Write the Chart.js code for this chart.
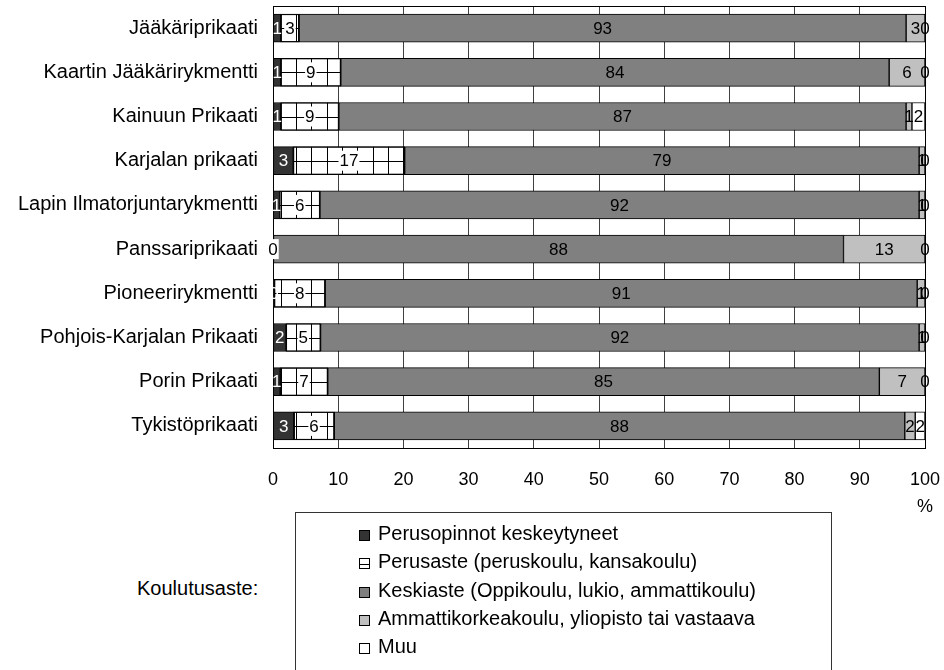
<!DOCTYPE html>
<html>
<head>
<meta charset="utf-8">
<script src="https://cdn.jsdelivr.net/npm/chart.js@4"></script>
<style>
    body { margin: 0; background: #fff; font-family: "Liberation Sans", Arial, sans-serif; }
    #wrap { position: relative; width: 944px; height: 670px; overflow: hidden; }
    #chart { position: absolute; left: 0; top: 0; }
    #legend { position: absolute; left: 295px; top: 512px; width: 537px; height: 200px;
              border: 1px solid #333; box-sizing: border-box; padding-top: 6px; }
    .item { height: 28.3px; line-height: 28.3px; font-size: 20px; color: #000; padding-left: 63px; white-space: nowrap; }
    .mark { display: inline-block; width: 11px; height: 11px; border: 1px solid #000; box-sizing: border-box;
            margin-right: 8px; vertical-align: -1px; }
    #title { position: absolute; left: 137px; top: 577px; font-size: 20px; color: #000; }
</style>
</head>
<body>
<div id="wrap">
    <canvas id="chart" width="944" height="520"></canvas>
    <div id="title">Koulutusaste:</div>
    <div id="legend"></div>
</div>
<script>
const categories = [
    "Jääkäriprikaati",
    "Kaartin Jääkärirykmentti",
    "Kainuun Prikaati",
    "Karjalan prikaati",
    "Lapin Ilmatorjuntarykmentti",
    "Panssariprikaati",
    "Pioneerirykmentti",
    "Pohjois-Karjalan Prikaati",
    "Porin Prikaati",
    "Tykistöprikaati"
];
const seriesNames = [
    "Perusopinnot keskeytyneet",
    "Perusaste (peruskoulu, kansakoulu)",
    "Keskiaste (Oppikoulu, lukio, ammattikoulu)",
    "Ammattikorkeakoulu, yliopisto tai vastaava",
    "Muu"
];
const perusopinnot = [1.2, 1.2, 1.2, 3.1, 1.0, 0, 0.2, 2.0, 1.1, 3.2];
const perusaste    = [2.8, 9.2, 8.9, 17.1, 6.2, 0, 7.8, 5.3, 7.3, 6.2];
const keskiaste    = [93.1, 84.1, 87.0, 78.9, 91.9, 87.5, 90.8, 91.8, 84.6, 87.5];
const korkeakoulu  = [2.9, 5.5, 0.9, 0.9, 0.9, 12.5, 1.2, 0.9, 7.0, 1.6];
const muu          = [0, 0, 2.0, 0, 0, 0, 0, 0, 0, 1.5];
const xTicks = [0, 10, 20, 30, 40, 50, 60, 70, 80, 90, 100];

const FONT = "'Liberation Sans', Arial, sans-serif";
const fills = ["#333333", "#ffffff", "#808080", "#c0c0c0", "#ffffff"];
const textColors = ["#ffffff", "#000000", "#000000", "#000000", "#000000"];

// frame round the plot area
const framePlugin = {
    id: "frame",
    beforeDatasetsDraw(chart) {
        const a = chart.chartArea, ctx = chart.ctx;
        ctx.save();
        ctx.strokeStyle = "#000";
        ctx.lineWidth = 1;
        ctx.strokeRect(Math.round(a.left) + 0.5, Math.round(a.top) + 0.5,
                       Math.round(a.right - a.left), Math.round(a.bottom - a.top));
        ctx.restore();
    }
};

// grid pattern of the "Perusaste" bars
const hatchPlugin = {
    id: "hatch",
    afterDatasetsDraw(chart) {
        const ctx = chart.ctx;
        const x0 = chart.scales.x.left;
        ctx.save();
        ctx.strokeStyle = "#000";
        ctx.lineWidth = 1;
        chart.getDatasetMeta(1).data.forEach(bar => {
            const p = bar.getProps(["x", "base", "y", "height"], true);
            const left = Math.min(p.x, p.base), right = Math.max(p.x, p.base);
            if (right - left < 1) return;
            const top = p.y - p.height / 2;
            ctx.save();
            ctx.beginPath();
            ctx.rect(left, top, right - left, p.height);
            ctx.clip();
            ctx.beginPath();
            for (let gx = x0 + 7.7; gx < right; gx += 15.3) {
                if (gx <= left) continue;
                ctx.moveTo(Math.round(gx) + 0.5, top);
                ctx.lineTo(Math.round(gx) + 0.5, top + p.height);
            }
            ctx.moveTo(left, Math.round(p.y) + 0.5);
            ctx.lineTo(right, Math.round(p.y) + 0.5);
            ctx.stroke();
            ctx.restore();
            ctx.strokeRect(left + 0.5, top + 0.5, right - left - 1, p.height - 1);
        });
        ctx.restore();
    }
};

// value labels in the middle of each segment
const labelPlugin = {
    id: "segLabels",
    afterDatasetsDraw(chart) {
        const ctx = chart.ctx;
        ctx.save();
        ctx.font = "17px " + FONT;
        ctx.textAlign = "center";
        ctx.textBaseline = "middle";
        chart.data.datasets.forEach((ds, i) => {
            chart.getDatasetMeta(i).data.forEach((bar, j) => {
                const p = bar.getProps(["x", "base", "y"], true);
                const cx = (p.x + p.base) / 2;
                const txt = String(Math.round(ds.data[j]));
                if (i === 1) {
                    const w = ctx.measureText(txt).width;
                    ctx.fillStyle = "#fff";
                    ctx.fillRect(cx - w / 2 - 1, p.y - 10, w + 2, 20);
                }
                ctx.fillStyle = textColors[i];
                ctx.fillText(txt, cx, p.y + 1);
            });
        });
        ctx.restore();
    },
    afterDraw(chart) {
        const ctx = chart.ctx;
        ctx.save();
        ctx.font = "18px " + FONT;
        ctx.fillStyle = "#000";
        ctx.textAlign = "center";
        ctx.textBaseline = "middle";
        ctx.fillText("%", chart.scales.x.getPixelForValue(100), 507);
        ctx.restore();
    }
};

const seriesData = [perusopinnot, perusaste, keskiaste, korkeakoulu, muu];

new Chart(document.getElementById("chart"), {
    type: "bar",
    data: {
        labels: categories,
        datasets: seriesNames.map((name, i) => ({
            label: name,
            data: seriesData[i],
            backgroundColor: fills[i],
            borderColor: "#000",
            borderWidth: 1,
            borderSkipped: false,
            barThickness: 28
        }))
    },
    options: {
        indexAxis: "y",
        responsive: false,
        animation: false,
        layout: { padding: { top: 6, right: 19, left: 0, bottom: 0 } },
        plugins: { legend: { display: false }, tooltip: { enabled: false } },
        scales: {
            x: {
                stacked: true,
                min: 0,
                max: 100,
                afterBuildTicks: s => { s.ticks = xTicks.map(v => ({ value: v })); },
                afterFit: s => {
                    s.height = 72;
                    s.paddingLeft = 0;
                    s.paddingRight = 0;
                },
                grid: { color: "#404040", lineWidth: 1, drawTicks: false },
                border: { display: false },
                ticks: { padding: 21, color: "#000", font: { size: 18, family: FONT } }
            },
            y: {
                stacked: true,
                afterFit: s => {
                    s.width = 273;
                    s.paddingTop = 0;
                    s.paddingBottom = 0;
                },
                grid: { display: false, drawTicks: false },
                border: { display: false },
                ticks: { padding: 15, color: "#000", font: { size: 20, family: FONT } }
            }
        }
    },
    plugins: [framePlugin, hatchPlugin, labelPlugin]
});

// legend
const marks = [
    "background:#333333",
    "background:linear-gradient(#fff 0 5px, #000 5px 6px, #fff 6px)",
    "background:#808080",
    "background:#c0c0c0",
    "background:#ffffff"
];
document.getElementById("legend").innerHTML = seriesNames.map((name, i) =>
    '<div class="item"><span class="mark" style="' + marks[i] + '"></span>' + name + '</div>'
).join("");
</script>
</body>
</html>
